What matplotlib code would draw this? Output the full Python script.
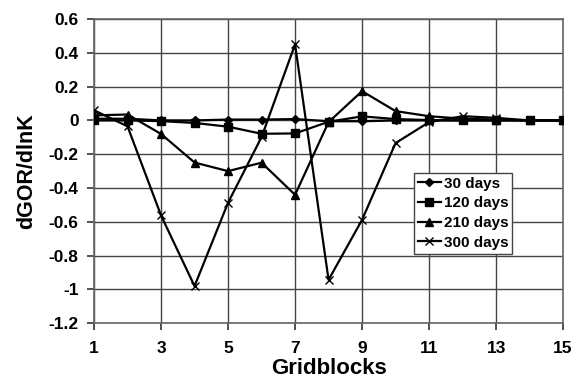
import matplotlib
matplotlib.use("Agg")
import matplotlib.pyplot as plt

plt.rcParams['font.family'] = ['Liberation Sans', 'DejaVu Sans']
plt.rcParams['font.weight'] = 'bold'

gridblocks = list(range(1, 16))
days_30 = [0.01, 0.01, 0.0, 0.0, 0.005, 0.005, 0.008, -0.005, -0.005, 0.0, 0.0, 0.0, 0.0, 0.0, 0.0]
days_120 = [0.0, 0.0, -0.004, -0.015, -0.037, -0.079, -0.077, -0.008, 0.024, 0.008, 0.002, 0.0, 0.0, 0.0, 0.0]
days_210 = [0.03, 0.035, -0.08, -0.249, -0.30, -0.25, -0.44, -0.01, 0.173, 0.055, 0.025, 0.01, 0.005, 0.0, 0.0]
days_300 = [0.06, -0.035, -0.562, -0.98, -0.487, -0.099, 0.45, -0.943, -0.588, -0.134, -0.01, 0.025, 0.015, 0.0, 0.0]

x_ticks = [1, 3, 5, 7, 9, 11, 13, 15]
y_ticks = [0.6, 0.4, 0.2, 0, -0.2, -0.4, -0.6, -0.8, -1, -1.2]
y_tick_labels = ['0.6', '0.4', '0.2', '0', '-0.2', '-0.4', '-0.6', '-0.8', '-1', '-1.2']

fig = plt.figure(figsize=(5.74, 3.82), dpi=100)
ax = fig.add_axes([0.1638, 0.1537, 0.8172, 0.7966])

ax.plot(gridblocks, days_30, color='black', lw=1.6, marker='D', ms=4, label='30 days', zorder=5)
ax.plot(gridblocks, days_120, color='black', lw=1.6, marker='s', ms=6, label='120 days', zorder=5)
ax.plot(gridblocks, days_210, color='black', lw=1.6, marker='^', ms=6, label='210 days', zorder=5)
ax.plot(gridblocks, days_300, color='black', lw=1.6, marker='x', ms=6, mew=1.0, label='300 days', zorder=5)

ax.set_xlim(1, 15)
ax.set_ylim(-1.2, 0.6)
ax.set_xticks(x_ticks)
ax.set_yticks(y_ticks)
ax.set_yticklabels(y_tick_labels)
ax.tick_params(axis='both', labelsize=12.5, direction='out', length=5, width=1.2, color='#333333', pad=6)
ax.tick_params(axis='x', pad=8)
for lab in ax.get_xticklabels() + ax.get_yticklabels():
    lab.set_fontweight('bold')

ax.grid(True, color='#444444', lw=1.0)
ax.set_axisbelow(True)
for s in ax.spines.values():
    s.set_color('#666666')
    s.set_linewidth(1.2)

ax.set_xlabel('Gridblocks', fontsize=16, fontweight='bold', labelpad=1)
ax.set_ylabel('dGOR/dlnK', fontsize=15.5, fontweight='bold', labelpad=8)

leg = ax.legend(loc='upper left', bbox_to_anchor=(0.682, 0.494), fontsize=11,
                frameon=True, fancybox=False, edgecolor='#444444', framealpha=1,
                handlelength=1.5, handletextpad=0.2, borderpad=0.25, labelspacing=0.37,
                borderaxespad=0)
leg.get_frame().set_linewidth(1.0)
for t in leg.get_texts():
    t.set_fontweight('bold')

fig.savefig('out.png', dpi=100)
